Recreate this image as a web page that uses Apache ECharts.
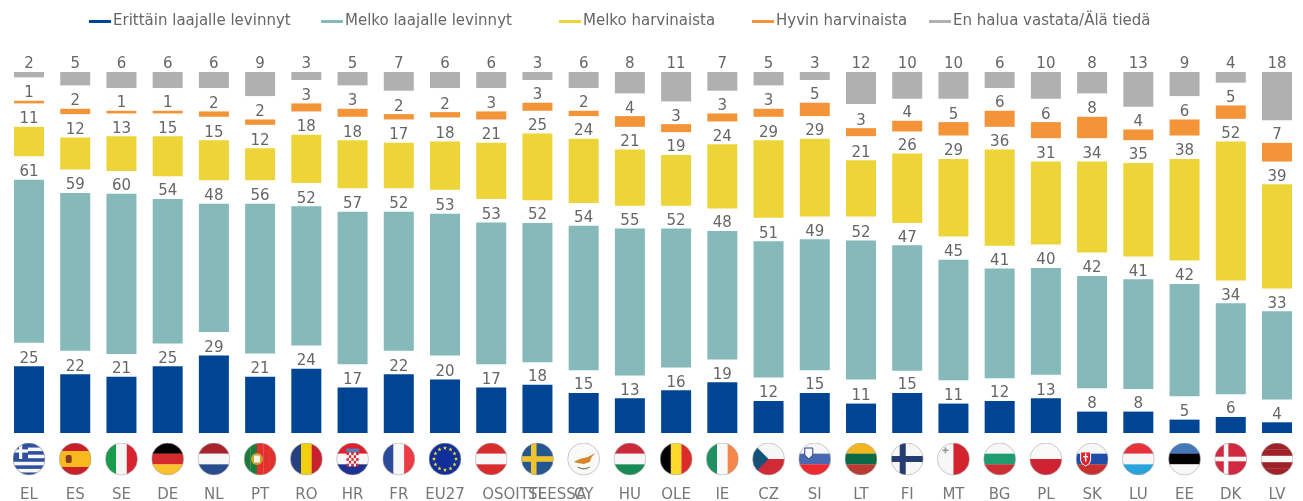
<!DOCTYPE html>
<html>
<head>
<meta charset="utf-8">
<title>Chart</title>
<script src="https://cdn.jsdelivr.net/npm/echarts@6/dist/echarts.min.js"></script>
<style>
  html, body { margin: 0; padding: 0; background: #fff; }
  #main { width: 1303px; height: 501px; }
</style>
</head>
<body>
<div id="main"></div>
<script>
// Country labels as printed in the picture, and the flag shown above each one
const tickLabels = ['EL', 'ES', 'SE', 'DE', 'NL', 'PT', 'RO', 'HR', 'FR', 'EU27', 'OSOITTEESSA', 'SE', 'CY', 'HU', 'OLE', 'IE', 'CZ', 'SI', 'LT', 'FI', 'MT', 'BG', 'PL', 'SK', 'LU', 'EE', 'DK', 'LV'];
const flagCodes = ['EL', 'ES', 'IT', 'DE', 'NL', 'PT', 'RO', 'HR', 'FR', 'EU', 'AT', 'SE', 'CY', 'HU', 'BE', 'IE', 'CZ', 'SI', 'LT', 'FI', 'MT', 'BG', 'PL', 'SK', 'LU', 'EE', 'DK', 'LV'];

const seriesNames = ['Erittäin laajalle levinnyt', 'Melko laajalle levinnyt', 'Melko harvinaista', 'Hyvin harvinaista', 'En halua vastata/Älä tiedä'];

const veryWide = [25, 22, 21, 25, 29, 21, 24, 17, 22, 20, 17, 18, 15, 13, 16, 19, 12, 15, 11, 15, 11, 12, 13, 8, 8, 5, 6, 4];
const fairlyWide = [61, 59, 60, 54, 48, 56, 52, 57, 52, 53, 53, 52, 54, 55, 52, 48, 51, 49, 52, 47, 45, 41, 40, 42, 41, 42, 34, 33];
const fairlyRare = [11, 12, 13, 15, 15, 12, 18, 18, 17, 18, 21, 25, 24, 21, 19, 24, 29, 29, 21, 26, 29, 36, 31, 34, 35, 38, 52, 39];
const veryRare = [1, 2, 1, 1, 2, 2, 3, 3, 2, 2, 3, 3, 2, 4, 3, 3, 3, 5, 3, 4, 5, 6, 6, 8, 4, 6, 5, 7];
const noAnswer = [2, 5, 6, 6, 6, 9, 3, 5, 7, 6, 6, 3, 6, 8, 11, 7, 5, 3, 12, 10, 10, 6, 10, 8, 13, 9, 4, 18];

const colors = ['#004494', '#85b9ba', '#edd438', '#f39438', '#b0b0b0'];
const legendLeft = [89, 321, 559, 752, 929];
const textColor = '#666666';
const axisMax = 135;

const allValues = [veryWide, fairlyWide, fairlyRare, veryRare, noAnswer];

// Invisible spacers leave room for the labels and bring every column to the same top
const spacers = tickLabels.map((_, i) => {
    let total = 0;
    allValues.forEach(values => { total += values[i]; });
    return (axisMax - total) / 4;
});

function bands(list, vertical) {
    let out = '';
    let size = 32 / list.length;
    list.forEach((color, i) => {
        out += vertical
            ? `<rect x="${i * size}" y="0" width="${size + 0.2}" height="32" fill="${color}"/>`
            : `<rect x="0" y="${i * size}" width="32" height="${size + 0.2}" fill="${color}"/>`;
    });
    return out;
}

function star(cx, cy, r, color) {
    let points = [];
    for (let i = 0; i < 10; i++) {
        let rad = i % 2 ? r * 0.42 : r;
        let angle = -Math.PI / 2 + i * Math.PI / 5;
        points.push((cx + rad * Math.cos(angle)).toFixed(2) + ',' + (cy + rad * Math.sin(angle)).toFixed(2));
    }
    return `<polygon points="${points.join(' ')}" fill="${color}"/>`;
}

function cross(back, color, x, y, width) {
    return `<rect width="32" height="32" fill="${back}"/>`
        + `<rect x="${x}" y="0" width="${width}" height="32" fill="${color}"/>`
        + `<rect x="0" y="${y}" width="32" height="${width}" fill="${color}"/>`;
}

function greek() {
    let out = `<rect width="32" height="32" fill="#2f4f9f"/>`;
    for (let i = 1; i < 8; i += 2) {
        out += `<rect x="0" y="${i * 32 / 9 + 1}" width="32" height="${32 / 9}" fill="#f7f7f7"/>`;
    }
    out += `<rect width="15" height="16" fill="#2f4f9f"/><rect x="6" y="0" width="3.2" height="16" fill="#f7f7f7"/><rect x="0" y="6.4" width="15" height="3.2" fill="#f7f7f7"/>`;
    return out;
}

function croatian() {
    let out = bands(['#e0202c', '#f7f7f7', '#1c3191']);
    for (let r = 0; r < 5; r++) {
        for (let c = 0; c < 5; c++) {
            out += `<rect x="${10 + c * 2.4}" y="${9.5 + r * 2.8}" width="2.4" height="2.8" fill="${(r + c) % 2 ? '#f7f7f7' : '#d62830'}"/>`;
        }
    }
    out += `<rect x="9.5" y="5.5" width="13" height="3.6" fill="#5b7db8"/>`;
    return out;
}

function europe() {
    let out = `<rect width="32" height="32" fill="#0f2f9a"/>`;
    for (let i = 0; i < 12; i++) {
        let angle = i * Math.PI / 6;
        out += star(16 + 11 * Math.cos(angle), 16 + 11 * Math.sin(angle), 2.2, '#f5d72b');
    }
    return out;
}

const flagArt = {
    EL: greek,
    ES: () => bands(['#c8202a', '#f7b91c', '#f7b91c', '#c8202a']) + `<rect x="6.5" y="12" width="6" height="8" rx="2" fill="#8a3b1e"/>`,
    IT: () => bands(['#1a9a4a', '#f5f5f5', '#d8232f'], true),
    DE: () => bands(['#000000', '#d52b2f', '#f9c22d']),
    NL: () => bands(['#a8232d', '#f7f7f7', '#284c8e']),
    PT: () => bands(['#1e7a3c', '#1e7a3c', '#e3302c', '#e3302c', '#e3302c'], true) + `<circle cx="12.8" cy="16" r="6" fill="#c9a227"/><rect x="9.8" y="12.5" width="6" height="7" fill="#f2f2f2"/>`,
    RO: () => bands(['#28407f', '#f2d010', '#c8202e'], true),
    HR: croatian,
    FR: () => bands(['#2b4a9a', '#f7f7f7', '#ec3b44'], true),
    EU: europe,
    AT: () => bands(['#d92c2c', '#f7f7f7', '#d92c2c']),
    SE: () => cross('#24568f', '#efc230', 9.5, 13.2, 5.6),
    CY: () => `<rect width="32" height="32" fill="#f9f9f7"/><path d="M6 19 L12 16 L20 14 L28 10 L24 14 L22 19 L16 21 L10 20 Z" fill="#d9862a"/><path d="M10 24 Q16 27.5 22 24" stroke="#7d8f6a" stroke-width="1.4" fill="none"/>`,
    HU: () => bands(['#cc2a3a', '#f7f7f7', '#1a8a55']),
    BE: () => bands(['#000000', '#fcd92a', '#dd2a2a'], true),
    IE: () => bands(['#1f9060', '#f8f8f8', '#f5874a'], true),
    CZ: () => bands(['#f7f7f7', '#cf2a35']) + `<polygon points="0,0 16,16 0,32" fill="#14527a"/>`,
    SI: () => bands(['#f7f7f7', '#4a68b0', '#ee2a30']) + `<path d="M6 5 H14 V12 L10 16 L6 12 Z" fill="#f7f7f7" stroke="#2a4390"/>`,
    LT: () => bands(['#f2b61f', '#0a6a46', '#b93a30']),
    FI: () => cross('#f7f7f7', '#253c70', 8.5, 13, 6),
    MT: () => bands(['#f7f7f7', '#d2232e'], true) + `<rect x="5" y="6.5" width="6" height="1.6" fill="#999"/><rect x="7.2" y="4.3" width="1.6" height="6" fill="#999"/>`,
    BG: () => bands(['#f7f7f7', '#1f9c70', '#cb2f33']),
    PL: () => bands(['#f9f9f9', '#cf2233']),
    SK: () => bands(['#f7f7f7', '#1d4fa8', '#c8302f']) + `<path d="M4.5 9 H14.5 V17 Q14.5 21 9.5 23 Q4.5 21 4.5 17 Z" fill="#d8262e" stroke="#f7f7f7"/><rect x="8.8" y="10.5" width="1.5" height="8" fill="#fff"/><rect x="7" y="13" width="5" height="1.4" fill="#fff"/>`,
    LU: () => bands(['#e8323a', '#f7f7f7', '#29a5dc']),
    EE: () => bands(['#4478b8', '#000000', '#f7f7f7']),
    DK: () => cross('#d12a40', '#f7f7f7', 9, 13.7, 4.6),
    LV: () => bands(['#9e2029', '#9e2029', '#f7f7f7', '#9e2029', '#9e2029'])
};

function flagSymbol(code) {
    let svg = `<svg xmlns="http://www.w3.org/2000/svg" width="66" height="66" viewBox="-0.5 -0.5 33 33">`
        + `<defs><clipPath id="c"><circle cx="16" cy="16" r="16"/></clipPath></defs>`
        + `<g clip-path="url(#c)">${flagArt[code]()}</g>`
        + `<circle cx="16" cy="16" r="16" fill="none" stroke="#a8a8a8" stroke-width="0.6"/></svg>`;
    return 'image://data:image/svg+xml;charset=utf-8,' + encodeURIComponent(svg);
}

let series = [];
allValues.forEach((values, k) => {
    series.push({
        name: seriesNames[k],
        type: 'bar',
        stack: 'total',
        barWidth: 30,
        itemStyle: { color: colors[k] },
        label: {
            show: true,
            position: 'top',
            distance: 0,
            color: textColor,
            fontSize: 15,
            fontFamily: 'DejaVu Sans'
        },
        data: values
    });
    if (k < allValues.length - 1) {
        series.push({
            name: 'spacer' + k,
            type: 'bar',
            stack: 'total',
            barWidth: 30,
            silent: true,
            itemStyle: { color: 'transparent' },
            data: spacers
        });
    }
});

series.push({
    name: 'flags',
    type: 'scatter',
    xAxisIndex: 1,
    yAxisIndex: 1,
    silent: true,
    clip: false,
    symbolSize: 33,
    itemStyle: { opacity: 1 },
    data: flagCodes.map((code, i) => ({ value: [i, 0.5], symbol: flagSymbol(code) }))
});

function tickFormatter(value) {
    if (value === 'OSOITTEESSA') return '{left|' + value + '}';
    if (value === 'EU27') return '{up|' + value + '}';
    return value;
}

let options = {
    animation: false,
    backgroundColor: '#ffffff',
    legend: seriesNames.map((name, k) => ({
        data: [name],
        left: legendLeft[k],
        top: 14,
        padding: 0,
        icon: 'rect',
        itemWidth: 22,
        itemHeight: 3,
        selectedMode: false,
        textStyle: {
            color: textColor,
            fontSize: 15,
            fontFamily: 'DejaVu Sans',
            padding: [0, 0, 0, -3]
        }
    })),
    tooltip: { show: false },
    grid: [
        { left: 5.9, right: 2.9, top: 72, height: 361, outerBoundsMode: 'none' },
        { left: 5.9, right: 2.9, top: 443, height: 32, outerBoundsMode: 'none' }
    ],
    xAxis: [
        { type: 'category', gridIndex: 0, data: tickLabels, show: false },
        {
            type: 'category',
            gridIndex: 1,
            data: tickLabels,
            axisLine: { show: false },
            axisTick: { show: false },
            axisLabel: {
                interval: 0,
                hideOverlap: false,
                margin: 13,
                color: '#777777',
                fontSize: 15,
                fontFamily: 'DejaVu Sans',
                formatter: tickFormatter,
                rich: {
                    left: { color: '#777777', fontSize: 15, fontFamily: 'DejaVu Sans', padding: [0, 0, 0, 86] },
                    up: { color: '#777777', fontSize: 15, fontFamily: 'DejaVu Sans', padding: [0, 0, 6, 0] }
                }
            }
        }
    ],
    yAxis: [
        { type: 'value', gridIndex: 0, min: 0, max: axisMax, show: false },
        { type: 'value', gridIndex: 1, min: 0, max: 1, show: false }
    ],
    series: series
};

let myChart = echarts.init(document.getElementById('main'));
myChart.setOption(options);
</script>
</body>
</html>
